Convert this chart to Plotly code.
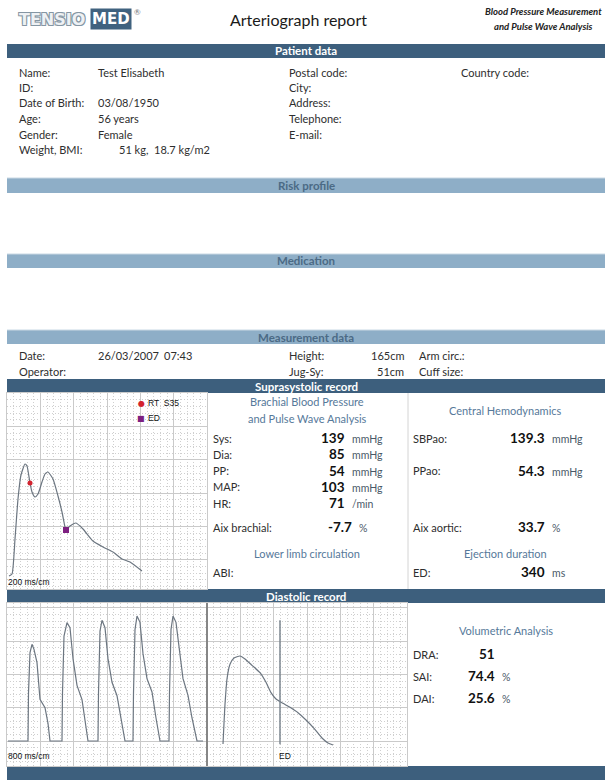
import plotly.graph_objects as go

# page size in px, everything below is placed in px and converted to paper coords
W, H = 605, 780

# suprasystolic record: time (ms, 200 ms per grid cell) and amplitude (grid cells)
supra_t_ms = [12, 30, 48, 66, 84, 108, 120, 138, 150, 168, 186, 210, 228, 246,
              276, 306, 330, 348, 354, 378, 414, 456, 516, 576, 636, 690, 738, 810]
supra_amp = [0.51, 0.57, 1.62, 2.82, 3.54, 3.87, 3.81, 3.30, 3.03, 2.88, 2.97, 3.33, 3.57, 3.63,
             3.42, 2.91, 2.43, 1.98, 1.89, 2.01, 2.10, 1.92, 1.56, 1.38, 1.23, 1.02, 0.93, 0.66]
rt_s35_ms, rt_s35_amp = 138, 3.30
ed_point_ms, ed_point_amp = 354, 1.89

# diastolic record, left half: 800 ms per grid cell
dia_t_ms = [24, 504, 516, 552, 600, 648, 720, 768, 792, 912, 984, 1032,
            1320, 1332, 1368, 1440, 1512, 1584, 1680, 1800, 1872, 1944,
            2184, 2196, 2232, 2280, 2352, 2424, 2520, 2640, 2736, 2832,
            3024, 3036, 3072, 3120, 3192, 3264, 3360, 3480, 3576, 3672,
            3888, 3900, 3936, 3984, 4056, 4152, 4224, 4344, 4440, 4560, 4704]
dia_amp = [0, 0, 1.45, 2.65, 2.90, 2.75, 2.35, 1.62, 1.25, 1.00, 0.53, 0,
           0, 1.45, 3.15, 3.55, 3.40, 2.47, 1.67, 1.24, 0.68, 0,
           0, 1.45, 3.30, 3.62, 3.40, 2.47, 1.76, 1.36, 0.68, 0,
           0, 1.45, 3.34, 3.75, 3.56, 2.62, 1.87, 1.47, 0.69, 0,
           0, 1.45, 3.34, 3.75, 3.56, 2.50, 1.87, 1.37, 0.69, 0, 0]

# diastolic record, right half: single averaged beat, 200 ms per grid cell
beat_t_ms = [96, 102, 108, 120, 138, 162, 198, 228, 270, 318, 354, 384, 414,
             456, 498, 546, 594, 642, 690, 726, 756]
beat_amp = [-0.09, 0.54, 1.10, 1.86, 2.30, 2.49, 2.55, 2.46, 2.27, 2.05, 1.76, 1.45, 1.26,
            1.13, 1.01, 0.85, 0.63, 0.38, 0.09, -0.06, -0.12]
ed_beat_ms = 438
ed_line_amp = [-0.1, 3.62]

# report texts
patient_left = [("Name:", "Test Elisabeth"), ("ID:", ""), ("Date of Birth:", "03/08/1950"),
                ("Age:", "56 years"), ("Gender:", "Female"), ("Weight, BMI:", "")]
weight_bmi = "51 kg,  18.7 kg/m2"
patient_mid = ["Postal code:", "City:", "Address:", "Telephone:", "E-mail:"]
brachial = [("Sys:", "139", "mmHg"), ("Dia:", "85", "mmHg"), ("PP:", "54", "mmHg"),
            ("MAP:", "103", "mmHg"), ("HR:", "71", "/min")]
central = [("SBPao:", "139.3", "mmHg", 0), ("PPao:", "54.3", "mmHg", 2)]
volumetric = [("DRA:", "51", ""), ("SAI:", "74.4", "%"), ("DAI:", "25.6", "%")]

FONT = "Lato"
DARK = "#3d5f7d"
LIGHT = "#8eaec7"
LIGHT_TXT = "#4b6a85"
HEAD = "#56799a"
LABEL = "#2e2e2e"
UNIT = "#4a5968"
VALUE = "#111111"
WAVE = "#6c7681"
LS = 11      # label size
VS = 13.5    # value size


def X(px):
    return px / W


def Y(py):
    return 1 - py / H


fig = go.Figure()
ann = []
shapes = []


def txt(x, y, s, size=LS, color=LABEL, anchor="left", family=FONT, **kw):
    ann.append(dict(x=X(x), y=Y(y), xref="paper", yref="paper", text=s, showarrow=False,
                    xanchor=anchor, yanchor="middle",
                    font=dict(family=family, size=size, color=color), **kw))


def bar(y0, y1, title, dark=True):
    shapes.append(dict(type="rect", xref="paper", yref="paper", x0=X(7), x1=1, y0=Y(y1), y1=Y(y0),
                       fillcolor=DARK if dark else LIGHT, line=dict(width=0), layer="below"))
    if not dark:
        shapes.append(dict(type="line", xref="paper", yref="paper", x0=X(7), x1=1, y0=Y(y0), y1=Y(y0),
                           line=dict(color="#c9d8e4", width=1)))
    if title:
        txt(306, (y0 + y1) / 2, "<b>%s</b>" % title, size=11.5,
            color="white" if dark else LIGHT_TXT, anchor="center")


def value(x, y, v, unit):
    txt(x, y, "<b>%s</b>" % v, size=VS, color=VALUE, anchor="right")
    if unit:
        txt(x + 3, y + 1, unit, size=10.5, color=UNIT)


# header
outline = "#8596a3"
ann.append(dict(x=X(17), y=Y(19), xref="paper", yref="paper", text="<b>TENSIO</b>", showarrow=False,
                xanchor="left", yanchor="middle",
                font=dict(family="DejaVu Sans", size=16, color="#eef1f4",
                          shadow="-1px -1px 0 %s, 1px -1px 0 %s, -1px 1px 0 %s, 1px 1px 0 %s"
                          % (outline, outline, outline, outline))))
ann.append(dict(x=X(90), y=Y(19), xref="paper", yref="paper", text="<b>MED</b>", showarrow=False,
                xanchor="left", yanchor="middle", bgcolor="#40627f", borderpad=1,
                font=dict(family="DejaVu Sans", size=15, color="white")))
txt(132, 12, "®", size=8, color="#777777")
txt(298, 19, "Arteriograph report", size=16, color="#1a1a1a", anchor="center")
txt(543, 12, "<b><i>Blood Pressure Measurement</i></b>", size=9.5, color="#222222", anchor="center")
txt(543, 27, "<b><i>and Pulse Wave Analysis</i></b>", size=9.5, color="#222222", anchor="center")

# section bars
bar(44, 58, "Patient data")
bar(178, 193, "Risk profile", dark=False)
bar(254, 268, "Medication", dark=False)
bar(330, 344, "Measurement data", dark=False)
bar(379, 393, "Suprasystolic record")
bar(589, 603, "Diastolic record")
bar(766, 781, "")

# patient data
row_y = [72 + 15.5 * i for i in range(6)]
for (lab, val), y in zip(patient_left, row_y):
    txt(17, y, lab)
    if val:
        txt(96, y, val)
txt(117, row_y[5], weight_bmi)
for lab, y in zip(patient_mid, row_y):
    txt(287, y, lab)
txt(459, row_y[0], "Country code:")

# measurement data
txt(17, 356, "Date:")
txt(96, 356, "26/03/2007")
txt(162, 356, "07:43")
txt(17, 371, "Operator:")
txt(287, 356, "Height:")
txt(406, 356, "165cm", anchor="right")
txt(287, 371, "Jug-Sy:")
txt(406, 371, "51cm", anchor="right")
txt(417, 356, "Arm circ.:")
txt(417, 371, "Cuff size:")

# suprasystolic numbers
txt(307, 402, "Brachial Blood Pressure", color=HEAD, anchor="center")
txt(307, 418, "and Pulse Wave Analysis", color=HEAD, anchor="center")
txt(506, 410, "Central Hemodynamics", color=HEAD, anchor="center")
rows = [438 + 16.3 * i for i in range(5)]
for (lab, val, unit), y in zip(brachial, rows):
    txt(211, y, lab)
    value(347, y, val, unit)
for lab, val, unit, r in central:
    txt(411, rows[r], lab)
    value(547, rows[r], val, unit)
txt(211, 527, "Aix brachial:")
value(354, 527, "-7.7", "%")
txt(411, 527, "Aix aortic:")
value(547, 527, "33.7", "%")
txt(307, 553, "Lower limb circulation", color=HEAD, anchor="center")
txt(506, 553, "Ejection duration", color=HEAD, anchor="center")
txt(211, 572, "ABI:")
txt(411, 572, "ED:")
value(547, 572, "340", "ms")
shapes.append(dict(type="line", xref="paper", yref="paper", x0=X(408), x1=X(408), y0=Y(589), y1=Y(393),
                   line=dict(color="#d4d4d4", width=1)))

# volumetric analysis
txt(506, 630, "Volumetric Analysis", color=HEAD, anchor="center")
for (lab, val, unit), y in zip(volumetric, [654, 676, 698]):
    txt(411, y, lab)
    value(497, y, val, unit)

# plot legends and scale labels
txt(141, 403, "●", size=8, color="#d3232f", family="DejaVu Sans", anchor="center")
txt(146, 403, "RT  S35", size=8.5, color="#111111", family="Liberation Sans")
txt(141, 418, "■", size=8, color="#7d1f80", family="DejaVu Sans", anchor="center")
txt(146, 418, "ED", size=8.5, color="#111111", family="Liberation Sans")
txt(6, 582, "200 ms/cm", size=8.5, color="#111111", family="Liberation Sans")
txt(6, 756, "800 ms/cm", size=8.5, color="#111111", family="Liberation Sans")
txt(277, 756, "ED", size=8.5, color="#111111", family="Liberation Sans")

# traces
fig.add_trace(go.Scatter(x=supra_t_ms, y=supra_amp, mode="lines", xaxis="x", yaxis="y",
                         line=dict(color=WAVE, width=1.2, shape="spline", smoothing=0.5), hoverinfo="skip"))
fig.add_trace(go.Scatter(x=[rt_s35_ms], y=[rt_s35_amp], mode="markers", xaxis="x", yaxis="y",
                         marker=dict(color="#d3232f", size=5, symbol="circle"), hoverinfo="skip"))
fig.add_trace(go.Scatter(x=[ed_point_ms], y=[ed_point_amp], mode="markers", xaxis="x", yaxis="y",
                         marker=dict(color="#7d1f80", size=6, symbol="square"), hoverinfo="skip"))
fig.add_trace(go.Scatter(x=dia_t_ms, y=dia_amp, mode="lines", xaxis="x2", yaxis="y2",
                         line=dict(color=WAVE, width=1.2), hoverinfo="skip"))
fig.add_trace(go.Scatter(x=beat_t_ms, y=beat_amp, mode="lines", xaxis="x3", yaxis="y3",
                         line=dict(color=WAVE, width=1.2, shape="spline", smoothing=0.5), hoverinfo="skip"))
fig.add_trace(go.Scatter(x=[ed_beat_ms, ed_beat_ms], y=ed_line_amp, mode="lines", xaxis="x3", yaxis="y3",
                         line=dict(color="#7c8791", width=1.5), hoverinfo="skip"))


def grid_axis(domain, rng, dtick, minor, anchor):
    return dict(domain=domain, range=rng, tick0=0, dtick=dtick, anchor=anchor,
                showgrid=True, gridcolor="#cacaca", gridwidth=1,
                minor=dict(tick0=0, dtick=minor, showgrid=True, gridcolor="#cfcfcf",
                           griddash="1px,2px", gridwidth=1),
                showticklabels=False, ticks="", zeroline=False,
                showline=True, linecolor="#cacaca", mirror=True, fixedrange=True)


supra_y = [Y(589), Y(393)]
dia_y = [Y(766), Y(603)]
dia_range = [-0.75, 4.14]
fig.update_layout(
    width=W, height=H,
    margin=dict(l=0, r=0, t=0, b=0),
    paper_bgcolor="white", plot_bgcolor="rgba(0,0,0,0)",
    showlegend=False,
    xaxis=grid_axis([X(7), X(207)], [0, 1200], 200, 40, "y"),
    yaxis=grid_axis(supra_y, [0.12, 6], 1, 0.2, "x"),
    xaxis2=grid_axis([X(7), X(207)], [0, 4800], 800, 160, "y2"),
    yaxis2=grid_axis(dia_y, dia_range, 1, 0.2, "x2"),
    xaxis3=grid_axis([X(207), X(407)], [0, 1200], 200, 40, "y3"),
    yaxis3=grid_axis(dia_y, dia_range, 1, 0.2, "x3"),
    annotations=ann,
    shapes=shapes + [dict(type="line", xref="paper", yref="paper", x0=X(207), x1=X(207),
                          y0=Y(766), y1=Y(603), line=dict(color="#6f6f6f", width=1.5))],
)

fig.write_html("out.html", config={"displayModeBar": False},
               post_script="document.body.style.margin='0';")
